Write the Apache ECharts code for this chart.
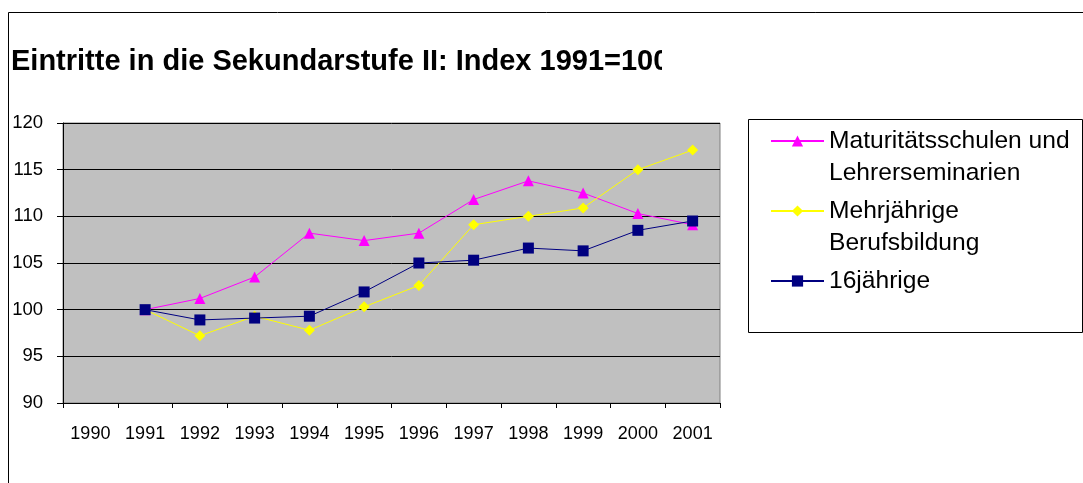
<!DOCTYPE html>
<html>
<head>
<meta charset="utf-8">
<script src="https://cdn.jsdelivr.net/npm/echarts@6/dist/echarts.min.js"></script>
<style>
html,body{margin:0;padding:0;background:#fff;}
#chart{width:1083px;height:483px;}
</style>
</head>
<body>
<div id="chart"></div>
<script>
const titleText = 'Eintritte in die Sekundarstufe II: Index 1991=100';
const years = ['1990','1991','1992','1993','1994','1995','1996','1997','1998','1999','2000','2001'];
const yTicks = [90, 95, 100, 105, 110, 115, 120];
const seriesNames = ['Maturitätsschulen und Lehrerseminarien', 'Mehrjährige Berufsbildung', '16jährige'];
const legendLines = [
  ['Maturitätsschulen und', 'Lehrerseminarien'],
  ['Mehrjährige', 'Berufsbildung'],
  ['16jährige', ' ']
];
const maturitaet = [null, 100, 101.2, 103.5, 108.2, 107.4, 108.2, 111.8, 113.8, 112.5, 110.3, 109.1];
const berufsbildung = [null, 100, 97.2, 99.3, 97.8, 100.3, 102.6, 109.1, 110.0, 110.9, 115.0, 117.1];
const sechzehn = [null, 100, 98.9, 99.1, 99.3, 101.9, 105.0, 105.3, 106.6, 106.3, 108.5, 109.5];

const FONT = '"Liberation Sans", Arial, sans-serif';
const chart = echarts.init(document.getElementById('chart'), null, {renderer: 'canvas'});

function mkSeries(name, data, color, symbol, size) {
  return {
    name: name,
    type: 'line',
    data: data,
    symbol: symbol,
    symbolSize: size,
    showAllSymbol: true,
    animation: false,
    lineStyle: {color: color, width: 1},
    itemStyle: {color: color, borderColor: color, borderWidth: 0}
  };
}

const option = {
  animation: false,
  backgroundColor: '#ffffff',
  textStyle: {fontFamily: FONT, color: '#000'},
  title: {
    text: titleText,
    left: 11,
    top: 47,
    padding: 0,
    textStyle: {fontFamily: FONT, fontSize: 29, fontWeight: 'bold', color: '#000'}
  },
  grid: {
    left: 63, top: 123, right: 363, bottom: 80,
    show: true,
    backgroundColor: '#c0c0c0',
    borderColor: '#808080',
    borderWidth: 1,
    containLabel: false
  },
  xAxis: {
    type: 'category',
    data: years,
    boundaryGap: true,
    axisLine: {show: true, lineStyle: {color: '#000', width: 1}},
    axisTick: {show: true, length: 5, inside: false, lineStyle: {color: '#000'}},
    axisLabel: {interval: 0, fontSize: 18, color: '#000', margin: 22, fontFamily: FONT},
    splitLine: {show: false}
  },
  yAxis: {
    type: 'value',
    min: yTicks[0],
    max: yTicks[yTicks.length - 1],
    interval: yTicks[1] - yTicks[0],
    axisLine: {show: true, lineStyle: {color: '#000', width: 1}},
    axisTick: {show: true, length: 6, lineStyle: {color: '#000'}},
    axisLabel: {fontSize: 18.5, color: '#000', margin: 20, fontFamily: FONT},
    splitLine: {show: true, lineStyle: {color: '#000', width: 1}}
  },
  legend: {
    orient: 'vertical',
    left: 770,
    top: 89,
    padding: 0,
    itemWidth: 53,
    itemHeight: 14,
    itemGap: -34,
    data: seriesNames,
    formatter: function (name) {
      const i = seriesNames.indexOf(name);
      return ' \n' + legendLines[i].join('\n');
    },
    textStyle: {fontFamily: FONT, fontSize: 24.6, lineHeight: 32, color: '#000', padding: [0, 0, 8, 0]}
  },
  graphic: [
    {type: 'rect', z: 100, silent: true, shape: {x: 662, y: 40, width: 80, height: 45}, style: {fill: '#fff'}},
    {type: 'rect', z: 100, silent: true, shape: {x: 8.5, y: 12.5, width: 1200, height: 600}, style: {fill: 'none', stroke: '#000', lineWidth: 1}},
    {type: 'rect', z: 100, silent: true, shape: {x: 748.5, y: 119.5, width: 334, height: 213}, style: {fill: 'none', stroke: '#000', lineWidth: 1}}
  ],
  series: [
    mkSeries(seriesNames[0], maturitaet, '#ff00ff', 'triangle', 11),
    mkSeries(seriesNames[1], berufsbildung, '#ffff00', 'diamond', 11),
    mkSeries(seriesNames[2], sechzehn, '#000080', 'rect', 11)
  ]
};
chart.setOption(option);
</script>
</body>
</html>
